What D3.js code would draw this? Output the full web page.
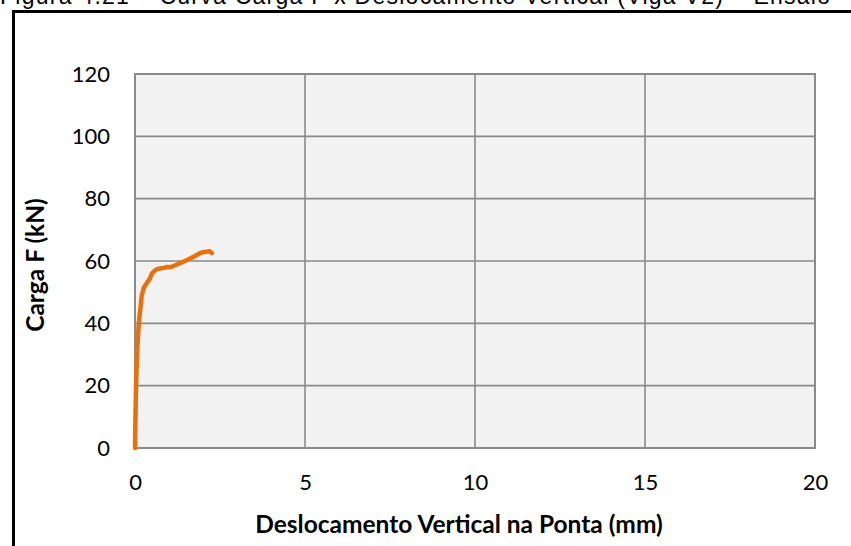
<!DOCTYPE html>
<html>
<head>
<meta charset="utf-8">
<script src="https://cdn.jsdelivr.net/npm/d3@7"></script>
<style>
  html, body { margin: 0; padding: 0; background: #ffffff; }
  svg { display: block; }
</style>
</head>
<body>
<svg id="chart" width="851" height="546"></svg>
<script>
// Load–displacement record (vertical displacement at the tip, mm vs. load F, kN)
const dispMm = [0, 0.01, 0.03, 0.05, 0.07, 0.1, 0.13, 0.17, 0.2, 0.26, 0.34, 0.4, 0.44, 0.5, 0.59, 0.65, 0.74, 0.85, 0.95, 1.05, 1.13, 1.22, 1.32, 1.45, 1.62, 1.75, 1.91, 2.0, 2.11, 2.2, 2.26];
const loadKN = [0, 8, 19.7, 27, 32.5, 38, 42, 46, 49, 51.5, 52.8, 53.8, 54.4, 56, 57, 57.4, 57.6, 57.8, 58.1, 58.0, 58.4, 58.8, 59.3, 59.9, 60.8, 61.5, 62.5, 62.8, 63, 63.1, 62.5];

const xTicks = [0, 5, 10, 15, 20];
const yTicks = [0, 20, 40, 60, 80, 100, 120];

const captionText = "Figura 4.21 – Curva Carga F x Deslocamento Vertical (Viga V2) – Ensaio";
const xTitle = "Deslocamento Vertical na Ponta (mm)";
const yTitle = "Carga F (kN)";

const svg = d3.select("#chart");
const W = 851, H = 546;
const plot = { left: 135, top: 74, right: 815, bottom: 448 };

svg.append("rect").attr("width", W).attr("height", H).attr("fill", "#ffffff");

// caption line above the frame (runs off the top of the page)
svg.append("text")
  .attr("x", 0).attr("y", 4)
  .attr("font-family", "Liberation Sans, Arial, sans-serif")
  .attr("font-size", 23)
  .attr("fill", "#000")
  .attr("textLength", 830)
  .attr("lengthAdjust", "spacing")
  .text(captionText);

// outer frame
svg.append("path")
  .attr("d", `M13.5,${H + 5} V11.5 H${W + 5}`)
  .attr("fill", "none")
  .attr("stroke", "#000")
  .attr("stroke-width", 3);

const x = d3.scaleLinear().domain([0, 20]).range([plot.left, plot.right]);
const y = d3.scaleLinear().domain([0, 120]).range([plot.bottom, plot.top]);

// plot area background
svg.append("rect")
  .attr("x", plot.left).attr("y", plot.top)
  .attr("width", plot.right - plot.left).attr("height", plot.bottom - plot.top)
  .attr("fill", "#f2f2f2");

// gridlines
const grid = svg.append("g").attr("stroke", "#8a8a8a").attr("stroke-width", 1.6);
grid.selectAll("line.h").data(yTicks.slice(1, -1)).join("line")
  .attr("x1", plot.left).attr("x2", plot.right)
  .attr("y1", d => y(d)).attr("y2", d => y(d));
grid.selectAll("line.v").data(xTicks.slice(1, -1)).join("line")
  .attr("y1", plot.top).attr("y2", plot.bottom)
  .attr("x1", d => x(d)).attr("x2", d => x(d));

// plot area border
svg.append("rect")
  .attr("x", plot.left).attr("y", plot.top)
  .attr("width", plot.right - plot.left).attr("height", plot.bottom - plot.top)
  .attr("fill", "none")
  .attr("stroke", "#8a8a8a").attr("stroke-width", 2);

// axes (labels only, no tick marks)
const fontTick = "Lato, 'Open Sans', sans-serif";
const xAxis = svg.append("g").attr("transform", `translate(0,${plot.bottom})`)
  .call(d3.axisBottom(x).tickValues(xTicks).tickSize(0).tickPadding(26).tickFormat(d3.format("d")));
const yAxis = svg.append("g").attr("transform", `translate(${plot.left},0)`)
  .call(d3.axisLeft(y).tickValues(yTicks).tickSize(0).tickPadding(25).tickFormat(d3.format("d")));
[xAxis, yAxis].forEach(a => {
  a.select(".domain").remove();
  a.selectAll("text").attr("font-family", fontTick).attr("font-size", 22).attr("fill", "#000");
});

// data line
const line = d3.line().x((d, i) => x(dispMm[i])).y(d => y(d)).curve(d3.curveLinear);
svg.append("path")
  .datum(loadKN)
  .attr("d", line)
  .attr("fill", "none")
  .attr("stroke", "#e8700d")
  .attr("stroke-width", 4.5)
  .attr("stroke-linejoin", "round")
  .attr("stroke-linecap", "round");

// axis titles
svg.append("text")
  .attr("x", 459).attr("y", 533)
  .attr("text-anchor", "middle")
  .attr("font-family", fontTick).attr("font-weight", "bold").attr("font-size", 24.5)
  .attr("fill", "#000")
  .text(xTitle);

svg.append("text")
  .attr("transform", "translate(44,265) rotate(-90)")
  .attr("text-anchor", "middle")
  .attr("font-family", fontTick).attr("font-weight", "bold").attr("font-size", 24.5)
  .attr("fill", "#000")
  .text(yTitle);
</script>
</body>
</html>
